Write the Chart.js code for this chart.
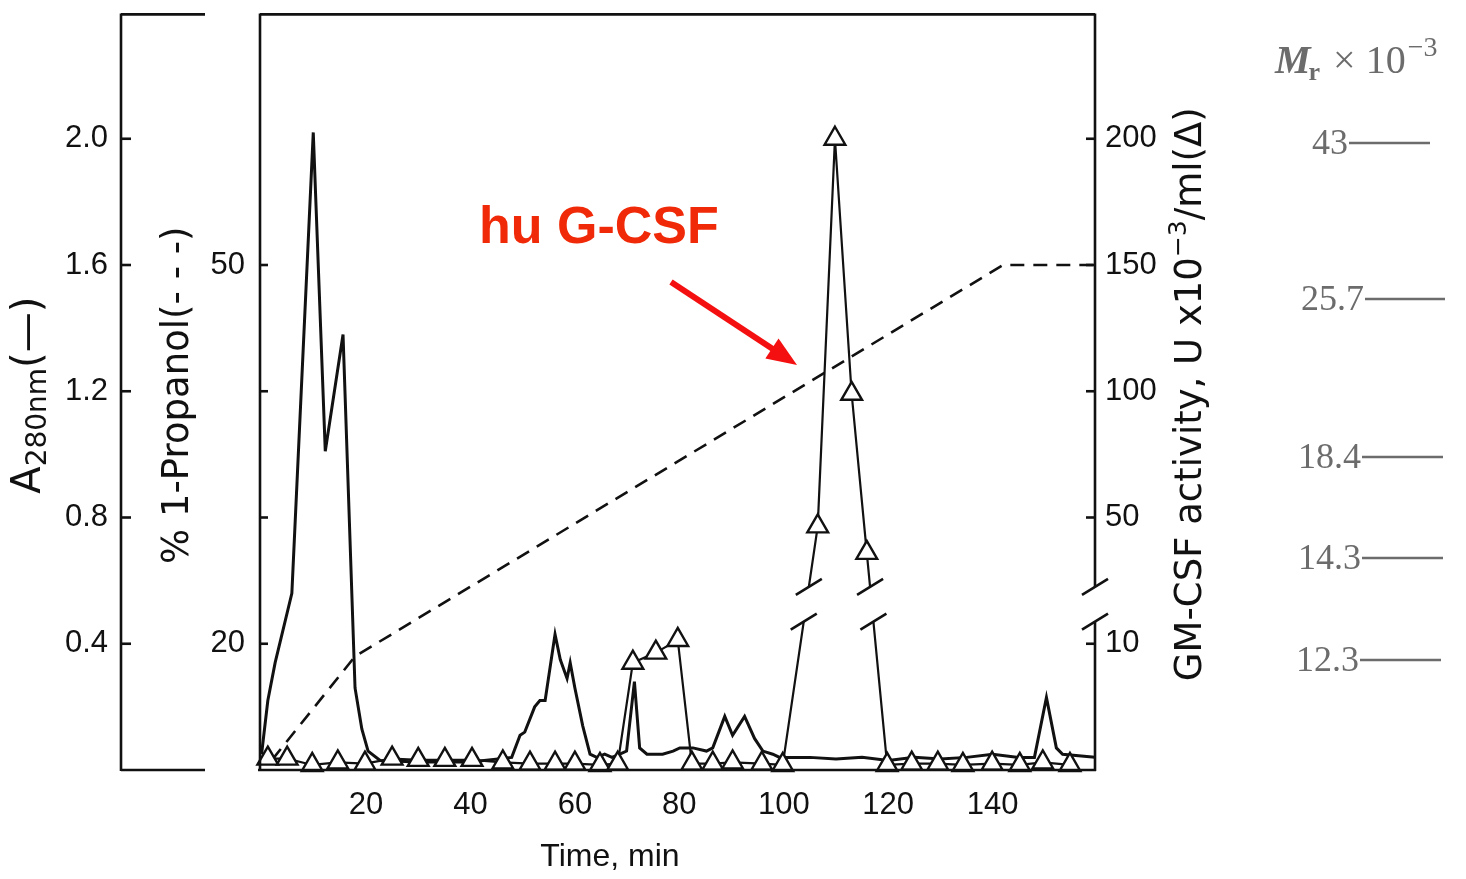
<!DOCTYPE html>
<html>
<head>
<meta charset="utf-8">
<title>hu G-CSF chromatography</title>
<script src="https://cdn.jsdelivr.net/npm/chart.js@4.4.1/dist/chart.umd.min.js"></script>
<style>
  html, body { margin: 0; padding: 0; background: #fff; }
  canvas { display: block; }
</style>
</head>
<body>
<canvas id="chart" width="1466" height="879"></canvas>
<script>
// tick values and labels
const timeTicks = [20, 40, 60, 80, 100, 120, 140];
const a280Ticks = [0.4, 0.8, 1.2, 1.6, 2.0];
const propanolMarks = [20, 30, 40, 50];
const propanolLabels = [20, 50];
const activityTicks = [10, 50, 100, 150, 200];

// A280 trace (solid line)
const a280Time = [0, 1.2, 2.6, 5.8, 9.9, 12.2, 15.6, 17.9, 19.2, 20.4, 22.7, 30, 40,
  47.9, 49.5, 50.4, 52.3, 53.3, 54.3, 56.2, 57.2, 58.5, 59.1, 60.0, 61.5, 62.9, 64.2,
  65.7, 67.1, 68.6, 69.9, 71.4, 72.4, 73.8, 76.8, 78.8, 80.1, 82.6, 85.2, 86.4, 88.7,
  90.2, 92.5, 94.4, 96.0, 97.9, 99.2, 105, 110, 115, 120, 125, 130, 135, 140, 145,
  148, 150.3, 152.2, 153.4, 159.6];
const a280Abs = [0.05, 0.22, 0.34, 0.56, 2.02, 1.01, 1.38, 0.26, 0.13, 0.06, 0.03, 0.025, 0.025,
  0.04, 0.11, 0.12, 0.20, 0.22, 0.22, 0.43, 0.35, 0.29, 0.34, 0.26, 0.14, 0.05, 0.04,
  0.05, 0.04, 0.05, 0.06, 0.28, 0.07, 0.05, 0.05, 0.06, 0.07, 0.07, 0.06, 0.07, 0.17,
  0.11, 0.17, 0.10, 0.06, 0.05, 0.04, 0.04, 0.035, 0.04, 0.03, 0.04, 0.035, 0.04, 0.05, 0.04,
  0.04, 0.23, 0.07, 0.05, 0.04];

// 1-propanol gradient (dashed line)
const propanolTime = [2, 17.9, 142, 159.6];
const propanolPct = [10.8, 19.0, 50, 50];

// GM-CSF activity (triangles), U x 10^-3 / ml
const activityTime = [1.2, 4.9, 9.7, 14.6, 19.8, 25.0, 30.0, 35.1, 40.3, 46.2, 51.4, 56.2,
  60.0, 64.8, 68.2, 71.1, 75.5, 79.7, 82.4, 86.4, 90.2, 95.8, 99.8, 106.5, 109.8, 113.0,
  115.9, 119.8, 124.5, 129.5, 134.3, 139.9, 145.2, 149.6, 154.8];
const activityUnits = [0.9, 0.9, 0.4, 0.6, 0.5, 0.9, 0.8, 0.8, 0.8, 0.6, 0.5, 0.5,
  0.5, 0.4, 0.5, 8.5, 9.3, 10.3, 0.5, 0.5, 0.6, 0.5, 0.4, 46.5, 200, 99,
  36, 0.4, 0.5, 0.5, 0.4, 0.5, 0.4, 0.6, 0.4];

// molecular weight markers at the right
const mrLabels = ['43', '25.7', '18.4', '14.3', '12.3'];

const INK = '#111';
const SANS = '"Liberation Sans", Arial, sans-serif';
const TITLE = '"DejaVu Sans", sans-serif';
const SERIF = '"Liberation Serif", "Times New Roman", serif';

const A_MAX = 2.394;
const P_MIN = 10, P_MAX = 69.85;
const BREAK_LO = 0.47, BREAK_HI = 0.58;   // axis break (in A280 units)

// broken activity axis: 0-10 below the break, 50-200 above it
function toAxis(u) {
  return u <= 12 ? u / 25 : (u + 50) / 125;
}

const zip = (xs, ys, f = v => v) => xs.map((x, i) => ({ x, y: f(ys[i]) }));

// pixel layout of the marker ladder
const mrLayout = { y: [143, 299, 457, 558, 660], textRight: [1348, 1364, 1361, 1361, 1359], lineEnd: [1430, 1445, 1443, 1443, 1441] };

function seg(ctx, x1, y1, x2, y2) {
  ctx.beginPath();
  ctx.moveTo(x1, y1);
  ctx.lineTo(x2, y2);
  ctx.stroke();
}

function slash(ctx, x, y) {
  seg(ctx, x - 13, y + 8, x + 13, y - 8);
}

// draws pieces [text, fontSize, dy] one after another, centred on 0
function drawPieces(ctx, pieces, family, style) {
  let total = 0;
  const widths = pieces.map(p => {
    ctx.font = `${style || ''} ${p[1]}px ${family}`;
    const w = ctx.measureText(p[0]).width;
    total += w;
    return w;
  });
  let x = -total / 2;
  pieces.forEach((p, i) => {
    ctx.font = `${style || ''} ${p[1]}px ${family}`;
    ctx.fillText(p[0], x, p[2]);
    x += widths[i];
  });
}

// keep the axes from pushing the plot area around
function noPad(s) {
  s.paddingTop = 0;
  s.paddingBottom = 0;
  s.paddingLeft = 0;
  s.paddingRight = 0;
}

const decor = {
  id: 'decor',
  afterDraw(chart) {
    const { ctx, chartArea: ca, scales } = chart;
    const yA = scales.yA, yP = scales.yP, yR = scales.yR;
    ctx.save();
    ctx.strokeStyle = INK;
    ctx.fillStyle = INK;
    ctx.lineWidth = 2.6;

    // breaks on the activity line
    const yHi = yR.getPixelForValue(BREAK_HI);
    const yLo = yR.getPixelForValue(BREAK_LO);
    const pts = chart.getDatasetMeta(0).data;
    for (let i = 1; i < pts.length; i++) {
      const p0 = pts[i - 1], p1 = pts[i];
      const top = Math.min(p0.y, p1.y), bot = Math.max(p0.y, p1.y);
      if (top < yHi && bot > yLo) {
        const at = y => p0.x + (y - p0.y) * (p1.x - p0.x) / (p1.y - p0.y);
        ctx.save();
        ctx.strokeStyle = '#fff';
        ctx.lineWidth = 8;
        seg(ctx, at(yLo), yLo, at(yHi), yHi);
        ctx.restore();
        slash(ctx, at(yLo), yLo);
        slash(ctx, at(yHi), yHi);
      }
    }

    // plot frame
    seg(ctx, ca.left, ca.top, ca.right, ca.top);
    seg(ctx, ca.left, ca.top - 1, ca.left, ca.bottom + 1);
    seg(ctx, ca.left - 2, ca.bottom, ca.right + 1, ca.bottom);
    seg(ctx, ca.right, ca.top - 1, ca.right, yHi);
    seg(ctx, ca.right, yLo, ca.right, ca.bottom + 1);
    slash(ctx, ca.right, yHi);
    slash(ctx, ca.right, yLo);

    // inward tick marks
    propanolMarks.forEach(v => {
      const py = yP.getPixelForValue(v);
      seg(ctx, ca.left, py, ca.left + 8, py);
    });
    activityTicks.forEach(v => {
      const py = yR.getPixelForValue(toAxis(v));
      seg(ctx, ca.right - 9, py, ca.right, py);
    });

    // detached A280 axis
    const ax = yA.right;
    seg(ctx, ax, ca.top - 1, ax, ca.bottom + 1);
    seg(ctx, ax, ca.top, ax + 84, ca.top);
    seg(ctx, ax, ca.bottom, ax + 84, ca.bottom);
    a280Ticks.forEach(v => {
      const py = yA.getPixelForValue(v);
      seg(ctx, ax, py, ax + 10, py);
    });

    const midY = (ca.top + ca.bottom) / 2 + 3;
    ctx.textBaseline = 'middle';
    ctx.textAlign = 'left';

    // A280nm title
    ctx.save();
    ctx.translate(30, midY);
    ctx.rotate(-Math.PI / 2);
    drawPieces(ctx, [['A', 40, 0], ['280nm', 28, 9], ['(\u2014)', 40, 0]], TITLE);
    ctx.restore();

    // propanol title
    ctx.save();
    ctx.translate(178, midY);
    ctx.rotate(-Math.PI / 2);
    drawPieces(ctx, [['% 1-Propanol(- - -)', 37, 0]], TITLE);
    ctx.restore();

    // activity title
    ctx.save();
    ctx.translate(1191, midY - 1);
    ctx.rotate(-Math.PI / 2);
    drawPieces(ctx, [['GM-CSF activity, U x10', 37, 0], ['\u22123', 25, -12], ['/ml(\u0394)', 37, 0]], TITLE);
    ctx.restore();

    // x title
    ctx.save();
    ctx.translate(610, 857);
    drawPieces(ctx, [['Time, min', 32, 0]], SANS);
    ctx.restore();

    // annotation
    ctx.fillStyle = '#f02a08';
    ctx.textBaseline = 'alphabetic';
    ctx.font = `bold 52px ${SANS}`;
    ctx.fillText('hu G-CSF', 479, 243);
    const ax0 = 671, ay0 = 282, ax1 = 797, ay1 = 365;
    const ang = Math.atan2(ay1 - ay0, ax1 - ax0);
    ctx.strokeStyle = '#f41010';
    ctx.fillStyle = '#f41010';
    ctx.lineWidth = 6;
    seg(ctx, ax0, ay0, ax1 - 24 * Math.cos(ang), ay1 - 24 * Math.sin(ang));
    ctx.beginPath();
    ctx.moveTo(ax1, ay1);
    ctx.lineTo(ax1 - 30 * Math.cos(ang) + 12 * Math.sin(ang), ay1 - 30 * Math.sin(ang) - 12 * Math.cos(ang));
    ctx.lineTo(ax1 - 30 * Math.cos(ang) - 12 * Math.sin(ang), ay1 - 30 * Math.sin(ang) + 12 * Math.cos(ang));
    ctx.closePath();
    ctx.fill();

    // Mr ladder
    const grey = '#6c6c6c';
    ctx.fillStyle = grey;
    ctx.strokeStyle = grey;
    ctx.lineWidth = 2.4;
    ctx.textAlign = 'right';
    ctx.font = `36px ${SERIF}`;
    mrLabels.forEach((lab, i) => {
      const y = mrLayout.y[i];
      ctx.fillText(lab, mrLayout.textRight[i], y + 11);
      seg(ctx, mrLayout.textRight[i] + 1, y, mrLayout.lineEnd[i], y);
    });
    ctx.textAlign = 'left';
    let hx = 1275;
    ctx.font = `italic bold 40px ${SERIF}`;
    ctx.fillText('M', hx, 73);
    hx += ctx.measureText('M').width - 2;
    ctx.font = `bold 26px ${SERIF}`;
    ctx.fillText('r', hx, 80);
    hx += ctx.measureText('r').width + 13;
    ctx.font = `40px ${SERIF}`;
    ctx.fillText('\u00d7', hx, 73);
    hx += ctx.measureText('\u00d7').width + 10;
    ctx.fillText('10', hx, 73);
    hx += ctx.measureText('10').width + 2;
    ctx.font = `28px ${SERIF}`;
    ctx.fillText('\u22123', hx, 56);

    ctx.restore();
  }
};

const tickFont = { family: SANS, size: 31 };

new Chart(document.getElementById('chart'), {
  type: 'line',
  data: {
    datasets: [
      {
        label: 'GM-CSF activity',
        data: zip(activityTime, activityUnits, toAxis),
        yAxisID: 'yR',
        borderColor: INK,
        borderWidth: 2.2,
        pointStyle: 'triangle',
        pointRadius: 12,
        pointBorderWidth: 2.4,
        pointBorderColor: INK,
        pointBackgroundColor: '#fff',
        tension: 0,
        clip: false
      },
      {
        label: 'A280',
        data: zip(a280Time, a280Abs),
        yAxisID: 'yA',
        borderColor: INK,
        borderWidth: 3,
        pointRadius: 0,
        tension: 0
      },
      {
        label: '% 1-Propanol',
        data: zip(propanolTime, propanolPct),
        yAxisID: 'yP',
        borderColor: INK,
        borderWidth: 2.6,
        borderDash: [14, 9],
        pointRadius: 0,
        tension: 0
      }
    ]
  },
  options: {
    responsive: false,
    animation: false,
    devicePixelRatio: 1,
    layout: { padding: { top: 8, right: 251, left: 0, bottom: 0 } },
    plugins: { legend: { display: false }, tooltip: { enabled: false } },
    scales: {
      x: {
        type: 'linear',
        position: 'bottom',
        min: -0.3,
        max: 159.6,
        afterBuildTicks: s => { s.ticks = timeTicks.map(v => ({ value: v })); },
        afterFit: s => { s.height = 109; noPad(s); },
        grid: { display: false, drawTicks: false },
        border: { display: false },
        ticks: { color: INK, font: tickFont, padding: 17, maxRotation: 0, autoSkip: false }
      },
      yA: {
        type: 'linear',
        position: 'left',
        weight: 2,
        min: 0,
        max: A_MAX,
        afterBuildTicks: s => { s.ticks = a280Ticks.map(v => ({ value: v })); },
        afterFit: s => { s.width = 121; noPad(s); },
        grid: { display: false, drawTicks: false },
        border: { display: false },
        ticks: { color: INK, font: tickFont, padding: 13, autoSkip: false, callback: v => v.toFixed(1) }
      },
      yP: {
        type: 'linear',
        position: 'left',
        weight: 1,
        min: P_MIN,
        max: P_MAX,
        afterBuildTicks: s => { s.ticks = propanolLabels.map(v => ({ value: v })); },
        afterFit: s => { s.width = 139; noPad(s); },
        grid: { display: false, drawTicks: false },
        border: { display: false },
        ticks: { color: INK, font: tickFont, padding: 15, autoSkip: false }
      },
      yR: {
        type: 'linear',
        position: 'right',
        min: 0,
        max: A_MAX,
        afterBuildTicks: s => { s.ticks = activityTicks.map(v => ({ value: toAxis(v) })); },
        afterFit: s => { s.width = 120; noPad(s); },
        grid: { display: false, drawTicks: false },
        border: { display: false },
        ticks: { color: INK, font: tickFont, padding: 10, autoSkip: false,
                 callback: (v, i) => String(activityTicks[i]) }
      }
    }
  },
  plugins: [decor]
});
</script>
</body>
</html>
